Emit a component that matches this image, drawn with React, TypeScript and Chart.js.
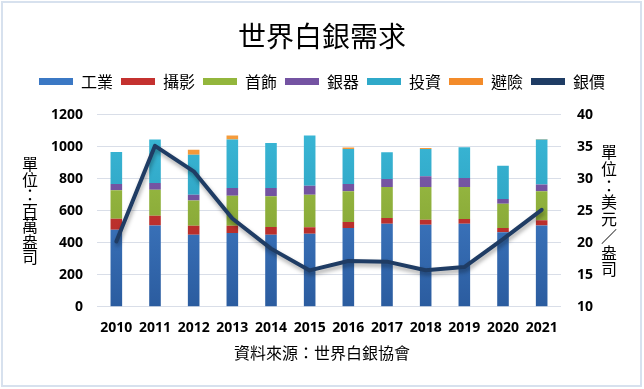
import React, { useEffect, useRef } from "react";
import { Chart, registerables } from "chart.js";

Chart.register(...registerables);

const years = ["2010", "2011", "2012", "2013", "2014", "2015", "2016", "2017", "2018", "2019", "2020", "2021"];
const industrial = [481, 508, 450, 460, 450, 456, 492, 519, 512, 519, 465, 508];
const photography = [69, 61, 56, 46, 48, 40, 37, 35, 32, 29, 27, 32];
const jewelry = [177, 162, 158, 188, 192, 204, 192, 194, 204, 200, 152, 181];
const silverware = [40, 42, 36, 48, 52, 56, 46, 50, 67, 56, 29, 42];
const investment = [200, 271, 250, 302, 281, 313, 218, 167, 170, 192, 208, 281];
const hedging = [0, 0, 31, 25, 0, 0, 9, 0, 7, 0, 0, 4];
const silverPrice = [20.19, 35.12, 31.15, 23.79, 19.08, 15.68, 17.14, 17.05, 15.71, 16.21, 20.55, 25.14];

const seriesNames = ["工業", "攝影", "首飾", "銀器", "投資", "避險", "銀價"];
const leftTicks = [0, 200, 400, 600, 800, 1000, 1200];
const rightTicks = [10, 15, 20, 25, 30, 35, 40];
const chartTitle = "世界白銀需求";
const sourceNote = "資料來源：世界白銀協會";
const leftAxisTitle = "單位：百萬盎司";
const rightAxisTitle = "單位：美元／盎司";

const barColors = [
  ["#4a8bd8", "#2b5c9f"],
  ["#d43b37", "#a82724"],
  ["#a3c54a", "#78982c"],
  ["#8161b0", "#5e3f8a"],
  ["#3bbad9", "#2490b0"],
  ["#f7a040", "#e47a1c"],
];
const legendColors = ["#3b78c4", "#c4312f", "#93b63c", "#7453a2", "#2fa9c9", "#f38b2a", "#1f3c64"];
const lineColor = "#1f3c64";

const FONT = '"Noto Sans CJK TC", "Noto Sans", sans-serif';
const TICK_FONT = '"Open Sans", "DejaVu Sans", sans-serif';

export default function App() {
  const ref = useRef<HTMLCanvasElement | null>(null);

  useEffect(() => {
    document.body.style.margin = "0";
    const canvas = ref.current;
    if (!canvas) return;

    const gradientFor = (idx: number) => (ctx: any) => {
      const chart = ctx.chart;
      const area = chart.chartArea;
      if (!area) return barColors[idx][0];
      const g = chart.ctx.createLinearGradient(0, area.top, 0, area.bottom);
      g.addColorStop(0, barColors[idx][0]);
      g.addColorStop(1, barColors[idx][1]);
      return g;
    };

    const barSets = [industrial, photography, jewelry, silverware, investment, hedging];

    const frame = {
      id: "frame",
      beforeDraw(chart: any) {
        const c = chart.ctx;
        c.save();
        c.fillStyle = "#ffffff";
        c.fillRect(0, 0, chart.width, chart.height);
        c.strokeStyle = "#d7e1ee";
        c.lineWidth = 2;
        c.strokeRect(2, 2, chart.width - 5, chart.height - 5);
        c.restore();
      },
    };

    const legendMargin = {
      id: "legendMargin",
      beforeInit(chart: any) {
        const orig = chart.legend.fit;
        chart.legend.fit = function () {
          orig.bind(chart.legend)();
          this.height += 15;
        };
      },
    };

    const lineShadow = {
      id: "lineShadow",
      beforeDatasetDraw(chart: any, args: any) {
        if (args.meta.type === "line") {
          const c = chart.ctx;
          c.save();
          c.shadowColor = "rgba(0,0,0,0.35)";
          c.shadowBlur = 4;
          c.shadowOffsetX = 1;
          c.shadowOffsetY = 3;
        }
      },
      afterDatasetDraw(chart: any, args: any) {
        if (args.meta.type === "line") chart.ctx.restore();
      },
    };

    const verticalTitles = {
      id: "verticalTitles",
      afterDraw(chart: any) {
        const c = chart.ctx;
        const area = chart.chartArea;
        const mid = (area.top + area.bottom) / 2;
        c.save();
        c.font = `16px ${FONT}`;
        c.fillStyle = "#000";
        c.textAlign = "center";
        c.textBaseline = "middle";
        const l = Array.from(leftAxisTitle);
        const lp = 15.5;
        l.forEach((ch, i) => {
          c.fillText(ch, chart.scales.y.left + 30, mid + (i - (l.length - 1) / 2) * lp);
        });
        const r = Array.from(rightAxisTitle);
        const rp = 16.7;
        r.forEach((ch, i) => {
          c.fillText(ch, chart.scales.y1.right - 35, mid + (i - (r.length - 1) / 2) * rp);
        });
        c.restore();
      },
    };

    const chart = new Chart(canvas, {
      type: "bar",
      data: {
        labels: years,
        datasets: [
          ...barSets.map((d, i) => ({
            type: "bar" as const,
            label: seriesNames[i],
            data: d,
            backgroundColor: gradientFor(i),
            borderWidth: 0,
            yAxisID: "y",
            stack: "demand",
            order: 1,
            barPercentage: 0.3,
            categoryPercentage: 1,
          })),
          {
            type: "line" as const,
            label: seriesNames[6],
            data: silverPrice,
            borderColor: lineColor,
            backgroundColor: lineColor,
            borderWidth: 4,
            pointRadius: 0,
            tension: 0,
            borderCapStyle: "round",
            borderJoinStyle: "round",
            yAxisID: "y1",
            order: 0,
          },
        ],
      },
      options: {
        animation: false,
        responsive: false,
        layout: { padding: 0 },
        plugins: {
          title: {
            display: true,
            text: chartTitle,
            color: "#000",
            font: { family: FONT, size: 28, weight: "normal" },
            padding: { top: 20, bottom: 12 },
          },
          subtitle: {
            display: true,
            position: "bottom",
            text: sourceNote,
            color: "#000",
            font: { family: FONT, size: 16, weight: "normal" },
            padding: { top: 6, bottom: 26 },
          },
          legend: {
            display: true,
            position: "top",
            labels: {
              boxWidth: 34,
              boxHeight: 7,
              padding: 8,
              color: "#000",
              font: { family: FONT, size: 16 },
              sort: (a: any, b: any) => a.datasetIndex - b.datasetIndex,
              generateLabels: (ch: any) =>
                (Chart.defaults.plugins.legend.labels as any).generateLabels(ch).map((l: any) => ({
                  ...l,
                  fillStyle: legendColors[l.datasetIndex],
                  strokeStyle: legendColors[l.datasetIndex],
                  lineWidth: 0,
                })),
            },
          },
          tooltip: { enabled: false },
        },
        scales: {
          x: {
            stacked: true,
            grid: { display: false },
            border: { display: false },
            afterFit: (s: any) => {
              s.height = 31;
            },
            ticks: {
              color: "#000",
              font: { family: TICK_FONT, size: 14, weight: "bold" },
              padding: 5,
              maxRotation: 0,
            },
          },
          y: {
            stacked: true,
            position: "left",
            min: 0,
            max: 1200,
            afterBuildTicks: (s: any) => {
              s.ticks = leftTicks.map((v) => ({ value: v }));
            },
            afterFit: (s: any) => {
              s.width = 97;
            },
            grid: { color: "#d9dee8", drawTicks: false, lineWidth: 1 },
            border: { display: false },
            ticks: {
              color: "#000",
              font: { family: TICK_FONT, size: 14, weight: "bold" },
              padding: 14,
              callback: (v: any) => String(v),
            },
          },
          y1: {
            position: "right",
            min: 10,
            max: 40,
            afterBuildTicks: (s: any) => {
              s.ticks = rightTicks.map((v) => ({ value: v }));
            },
            afterFit: (s: any) => {
              s.width = 83;
            },
            grid: { display: false, drawTicks: false },
            border: { display: false },
            ticks: {
              color: "#000",
              font: { family: TICK_FONT, size: 14, weight: "bold" },
              padding: 16,
              callback: (v: any) => String(v),
            },
          },
        },
      },
      plugins: [frame, legendMargin, lineShadow, verticalTitles],
    } as any);

    return () => chart.destroy();
  }, []);

  return (
    <div style={{ width: 644, height: 389 }}>
      <canvas ref={ref} width={644} height={389} style={{ display: "block" }} />
    </div>
  );
}
